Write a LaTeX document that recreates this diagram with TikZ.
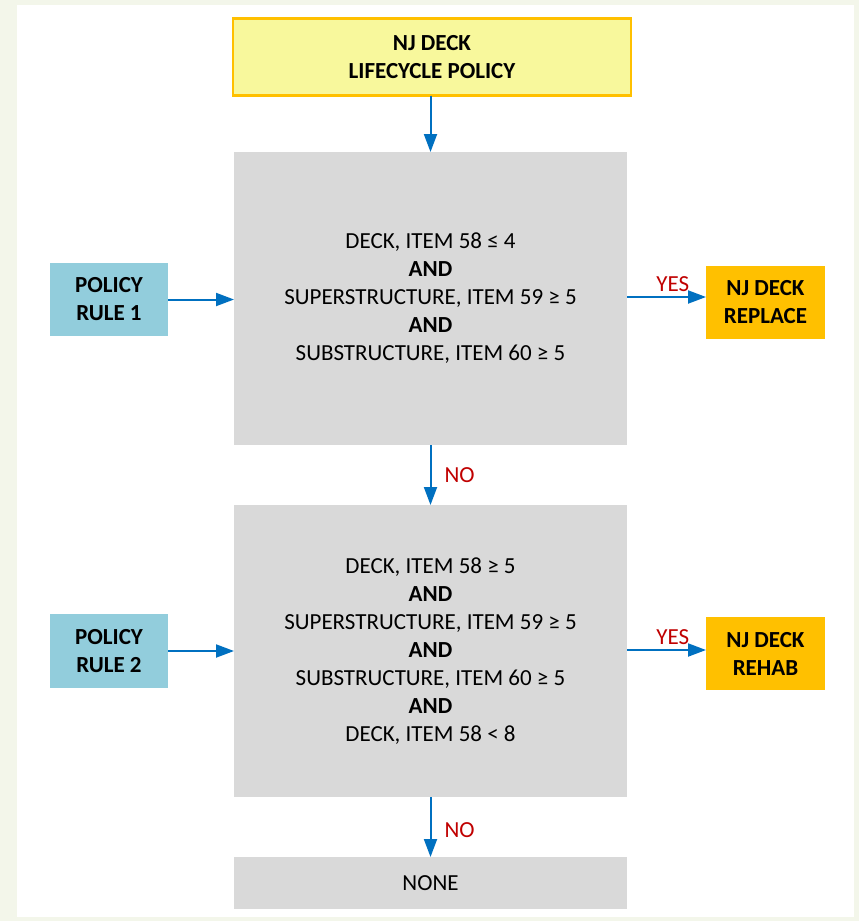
\documentclass[tikz,border=0pt]{standalone}
\usepackage{fontspec}
\setmainfont{Carlito}
\usetikzlibrary{arrows.meta}
\definecolor{pagebg}{HTML}{F3F6EA}
\definecolor{boxgray}{HTML}{D9D9D9}
\definecolor{ruleblue}{HTML}{92CDDC}
\definecolor{outorange}{HTML}{FFC000}
\definecolor{titleyellow}{HTML}{F8F89C}
\definecolor{arrowblue}{HTML}{0070C0}
\definecolor{labelred}{HTML}{C00000}
\tikzset{
  every node/.style={inner sep=0pt, outer sep=0pt, align=center},
  testbox/.style={fill=boxgray, font=\fontsize{23}{28}\selectfont},
  rulebox/.style={fill=ruleblue, font=\fontsize{23}{28}\selectfont\bfseries},
  resultbox/.style={fill=outorange, font=\fontsize{23}{28}\selectfont\bfseries},
  flow/.style={draw=arrowblue, line width=2pt, -{Triangle[length=18pt,width=13pt]}},
  answer/.style={text=labelred, font=\fontsize{23}{24}\selectfont},
}
\begin{document}
\begin{tikzpicture}[x=1pt,y=-1pt]
  % page and panel
  \fill[pagebg] (0,0) rectangle (859,921);
  \fill[white] (17,5) rectangle (854,917);

  % title
  \node[draw=outorange, line width=2.5pt, fill=titleyellow,
        minimum width=398pt, minimum height=77pt,
        font=\fontsize{23}{28}\selectfont\bfseries]
        (title) at (432,57) {NJ DECK\\LIFECYCLE POLICY};

  % test boxes
  \node[testbox, minimum width=393pt, minimum height=293pt] (test1) at (430.5,298.5)
    {DECK, ITEM 58 ≤ 4\\\textbf{AND}\\SUPERSTRUCTURE, ITEM 59 ≥ 5\\\textbf{AND}\\SUBSTRUCTURE, ITEM 60 ≥ 5};
  \node[testbox, minimum width=393pt, minimum height=292pt] (test2) at (430.5,651)
    {DECK, ITEM 58 ≥ 5\\\textbf{AND}\\SUPERSTRUCTURE, ITEM 59 ≥ 5\\\textbf{AND}\\SUBSTRUCTURE, ITEM 60 ≥ 5\\\textbf{AND}\\DECK, ITEM 58 < 8};
  \node[testbox, minimum width=393pt, minimum height=52pt] (none) at (430.5,883) {NONE};

  % policy rules
  \node[rulebox, minimum width=118pt, minimum height=73pt] (rule1) at (109,299.5) {POLICY\\RULE 1};
  \node[rulebox, minimum width=118pt, minimum height=74pt] (rule2) at (109,651) {POLICY\\RULE 2};

  % outcomes
  \node[resultbox, minimum width=119pt, minimum height=73pt] (replace) at (765.5,302.5) {NJ DECK\\REPLACE};
  \node[resultbox, minimum width=119pt, minimum height=73pt] (rehab) at (765.5,653.5) {NJ DECK\\REHAB};

  % connectors
  \draw[flow] (title.south -| test1.north) -- (test1.north);
  \draw[flow] (rule1.east) -- (rule1.east -| test1.west);
  \draw[flow] (rule2.east) -- (rule2.east -| test2.west);
  \draw[flow] (test1.east |- 0,297) -- (replace.west |- 0,297)
    node[answer, pos=0.58, above=5pt] {YES};
  \draw[flow] (test2.east |- 0,650) -- (rehab.west |- 0,650)
    node[answer, pos=0.58, above=5pt] {YES};
  \draw[flow] (test1.south) -- (test2.north)
    node[answer, midway, right=14pt] {NO};
  \draw[flow] (test2.south) -- (none.north)
    node[answer, pos=0.55, right=14pt] {NO};
\end{tikzpicture}
\end{document}
